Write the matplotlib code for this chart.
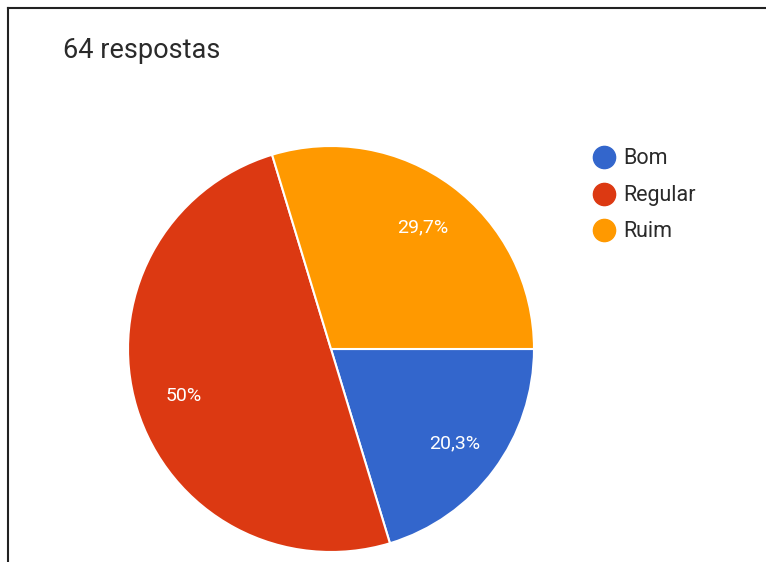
import matplotlib
matplotlib.use("Agg")
import matplotlib.pyplot as plt
from matplotlib.lines import Line2D
import numpy as np

plt.rcParams['font.family'] = ['Roboto', 'DejaVu Sans']

categories = ["Bom", "Regular", "Ruim"]
counts = [13, 32, 19]
pct_labels = ["20,3%", "50%", "29,7%"]
colors = ["#3366CC", "#DC3912", "#FF9900"]
title = "64 respostas"

W, H = 766, 562
fig = plt.figure(figsize=(W / 100, H / 100), dpi=100)
ax = fig.add_axes([0, 0, 1, 1])

cx, cy, r = 331, H - 349, 203
ax.pie(counts, colors=colors, startangle=0, counterclock=False,
       center=(cx, cy), radius=r, frame=True,
       wedgeprops=dict(edgecolor="white", linewidth=1.5))
ax.set_xlim(0, W)
ax.set_ylim(0, H)
ax.set_aspect("equal")
ax.axis("off")

total = sum(counts)
start = 0.0
for c, lab in zip(counts, pct_labels):
    frac = c / total
    mid = start - frac * 360 / 2
    ang = np.deg2rad(mid)
    x = cx + 0.76 * r * np.cos(ang)
    y = cy + 0.76 * r * np.sin(ang) - 2
    ax.text(x, y, lab, color="white", fontsize=14, ha="center", va="center")
    start -= frac * 360

# legend
for i, (cat, col) in enumerate(zip(categories, colors)):
    ly = H - (157 + i * 36.5)
    ax.plot([604], [ly], marker="o", markersize=16, color=col, linestyle="none")
    ax.text(623, ly - 1.5, cat, fontsize=15.5, color="#2a2a2a", ha="left", va="center")

fig.text(63 / W, 1 - 51 / H, title, fontsize=19.5, color="#2a2a2a",
         ha="left", va="center")

# frame lines
fig.add_artist(Line2D([8 / W, 1], [1 - 8 / H, 1 - 8 / H], color="#222222", linewidth=1.5,
                      transform=fig.transFigure))
fig.add_artist(Line2D([8 / W, 8 / W], [0, 1 - 8 / H], color="#222222", linewidth=1.5,
                      transform=fig.transFigure))

fig.savefig("out.png", dpi=100)
